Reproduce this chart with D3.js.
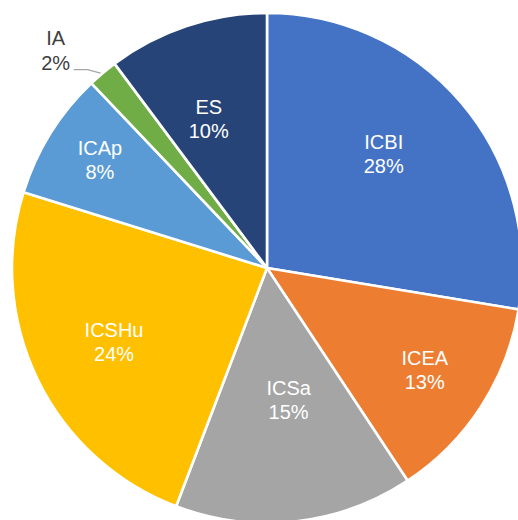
<!DOCTYPE html>
<html>
<head>
<meta charset="utf-8">
<script src="https://cdn.jsdelivr.net/npm/d3@7"></script>
<style>
  body { margin: 0; background: #fff; }
  text { font-family: "Liberation Sans", Arial, sans-serif; }
</style>
</head>
<body>
<script>
// chart data
let categories = ["ICBI", "ICEA", "ICSa", "ICSHu", "ICAp", "IA", "ES"]
let shares = [27.6, 13.1, 15.1, 24.0, 8.1, 1.9, 10.2]
let colors = ["#4472C4", "#ED7D31", "#A5A5A5", "#FFC000", "#5B9BD5", "#70AD47", "#264478"]

let w = 518, h = 520
let cx = 267, cy = 268, r = 255

// label placement (fraction of radius, angle nudge in degrees), IA sits outside
let labelR = [0.64, 0.737, 0.525, 0.667, 0.78, 0, 0.627]
let labelNudge = [-4, 0, -3, 0, 1, 0, -3]

let data = categories.map((c, i) => ({name: c, value: shares[i], color: colors[i], i: i}))

let svg = d3.select("body").append("svg")
    .attr("width", w)
    .attr("height", h)

let g = svg.append("g").attr("transform", `translate(${cx},${cy})`)

let pie = d3.pie().sort(null).value(d => d.value)
let arcs = pie(data)
let arc = d3.arc().innerRadius(0).outerRadius(r)

g.selectAll("path")
    .data(arcs)
    .enter()
    .append("path")
    .attr("d", arc)
    .attr("fill", d => d.data.color)
    .attr("stroke", "#fff")
    .attr("stroke-width", 2.6)
    .attr("stroke-linejoin", "round")

let pct = d => Math.round(d.value) + "%"

// labels inside slices
arcs.forEach((d, i) => {
    if (d.data.name == "IA") return
    let a = (d.startAngle + d.endAngle) / 2 + labelNudge[i] * Math.PI / 180
    let rr = r * labelR[i]
    let x = rr * Math.sin(a), y = -rr * Math.cos(a)
    let t = g.append("text")
        .attr("text-anchor", "middle")
        .attr("fill", "#fff")
        .attr("font-size", 20)
    t.append("tspan").attr("x", x).attr("y", y - 5).text(d.data.name)
    t.append("tspan").attr("x", x).attr("y", y + 19).text(pct(d.data))
})

// IA: outside label with leader line
let ia = arcs[categories.indexOf("IA")]
let am = (ia.startAngle + ia.endAngle) / 2
let sx = r * Math.sin(am), sy = -r * Math.cos(am)
g.append("path")
    .attr("d", `M${sx - 2},${sy}L${sx - 15},${sy - 3.5}L${sx - 29},${sy - 3.5}`)
    .attr("fill", "none")
    .attr("stroke", "#A6A6A6")
    .attr("stroke-width", 1.2)
let ta = g.append("text")
    .attr("text-anchor", "middle")
    .attr("fill", "#404040")
    .attr("font-size", 20)
ta.append("tspan").attr("x", sx - 47).attr("y", sy - 28).text(ia.data.name)
ta.append("tspan").attr("x", sx - 47).attr("y", sy - 3).text(pct(ia.data))
</script>
</body>
</html>
